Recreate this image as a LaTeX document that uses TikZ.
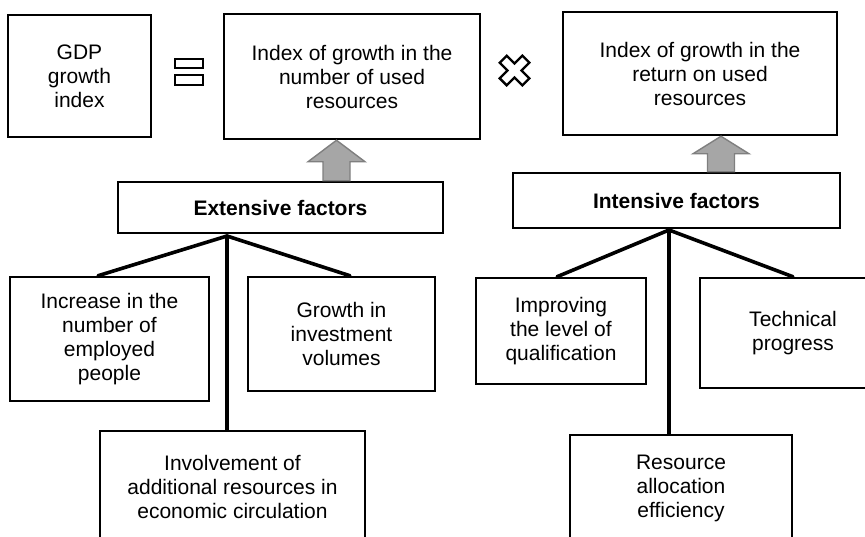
\documentclass[tikz,border=0pt]{standalone}
\usepackage{fontspec}
\setmainfont{Liberation Sans}
\usepackage{xcolor}
\usepackage{tikz}
\usetikzlibrary{positioning, calc}
\definecolor{arrowfill}{HTML}{A6A6A6}
\definecolor{arrowline}{HTML}{7F7F7F}
\tikzset{
    gdpdiagram/.style={x=1pt, y=-1pt, font=\fontsize{21}{24}\selectfont},
    box/.style={draw, line width=2.5pt, inner sep=2pt, align=center},
    factor/.style={box, font=\fontsize{21}{24}\selectfont\bfseries},
    branchline/.style={line width=3.6pt, line cap=round, line join=round},
    % gray block arrow between a factor box and an index box
    blockarrow/.style={draw=arrowline, fill=arrowfill, line width=1.4pt, line join=miter},
    symbol/.style={line width=2.3pt, line join=miter},
}
\begin{document}
\begin{tikzpicture}[gdpdiagram]
    \useasboundingbox (0,0) rectangle (865,536);
    \clip (0,0) rectangle (865,536);

    % top row: the equation
    \node[box, minimum width=143pt, minimum height=122pt] (gdp)  at (79.5,76)  {GDP\\growth\\index};
    \node[box, minimum width=256pt, minimum height=125pt] (idxa) at (352,76.5) {Index of growth in the\\number of used\\resources};
    \node[box, minimum width=274pt, minimum height=123pt] (idxb) at (700,73.5) {Index of growth in the\\return on used\\resources};

    \coordinate (eq)  at (189,72);
    \coordinate (mul) at (514.5,70.5);
    \draw[symbol] ($(eq)+(-13.75,-12.75)$) rectangle ($(eq)+(13.75,-3.75)$);
    \draw[symbol] ($(eq)+(-13.75,3.25)$) rectangle ($(eq)+(13.75,12.75)$);
    \draw[symbol, shift={(mul)}, rotate=45]
        (-5,-16) -- (5,-16) -- (5,-5) -- (16,-5) -- (16,5) -- (5,5)
        -- (5,16) -- (-5,16) -- (-5,5) -- (-16,5) -- (-16,-5) -- (-5,-5) -- cycle;

    % factor boxes
    \node[factor, minimum width=325pt, minimum height=51pt] (ext) at (280.5,207.5) {Extensive factors};
    \node[factor, minimum width=327pt, minimum height=55pt] (int) at (676.5,200.5) {Intensive factors};

    \coordinate (a1) at (336.5,0);
    \coordinate (a2) at (721,0);
    \draw[blockarrow] ($(ext.north -| a1)+(-13.5,0)$) -- ($(ext.north -| a1)+(-13.5,-19)$)
        -- ($(ext.north -| a1)+(-28.5,-19)$) -- (idxa.south -| a1)
        -- ($(ext.north -| a1)+(28.5,-19)$) -- ($(ext.north -| a1)+(13.5,-19)$)
        -- ($(ext.north -| a1)+(13.5,0)$) -- cycle;
    \draw[blockarrow] ($(int.north -| a2)+(-13.5,0)$) -- ($(int.north -| a2)+(-13.5,-18)$)
        -- ($(int.north -| a2)+(-28,-18)$) -- (idxb.south -| a2)
        -- ($(int.north -| a2)+(28,-18)$) -- ($(int.north -| a2)+(13.5,-18)$)
        -- ($(int.north -| a2)+(13.5,0)$) -- cycle;

    % extensive factors
    \node[box, minimum width=199pt, minimum height=124pt] (emp) at (109.5,339) {Increase in the\\number of\\employed\\people};
    \node[box, minimum width=187pt, minimum height=114pt] (inv) at (341.5,334) {Growth in\\investment\\volumes};
    \node[box, minimum width=265pt, minimum height=112pt] (inc) at (232.5,487) {Involvement of\\additional resources in\\economic circulation};

    \coordinate (ej) at (227,236);
    \draw[branchline] ([xshift=-11.5pt]emp.north) -- (ej) -- ([xshift=8.5pt]inv.north);
    \draw[branchline] (ej) -- (ej |- inc.north);

    % intensive factors
    \node[box, minimum width=170pt, minimum height=106pt] (qual) at (561,331) {Improving\\the level of\\qualification};
    \node[box, minimum width=186pt, minimum height=110pt] (tech) at (793,333) {Technical\\progress};
    \node[box, minimum width=222pt, minimum height=106pt] (res)  at (681,488) {Resource\\allocation\\efficiency};

    \coordinate (ij) at (669,230);
    \draw[branchline] ([xshift=-4pt]qual.north) -- (ij) -- (tech.north);
    \draw[branchline] (ij) -- (ij |- res.north);
\end{tikzpicture}
\end{document}
